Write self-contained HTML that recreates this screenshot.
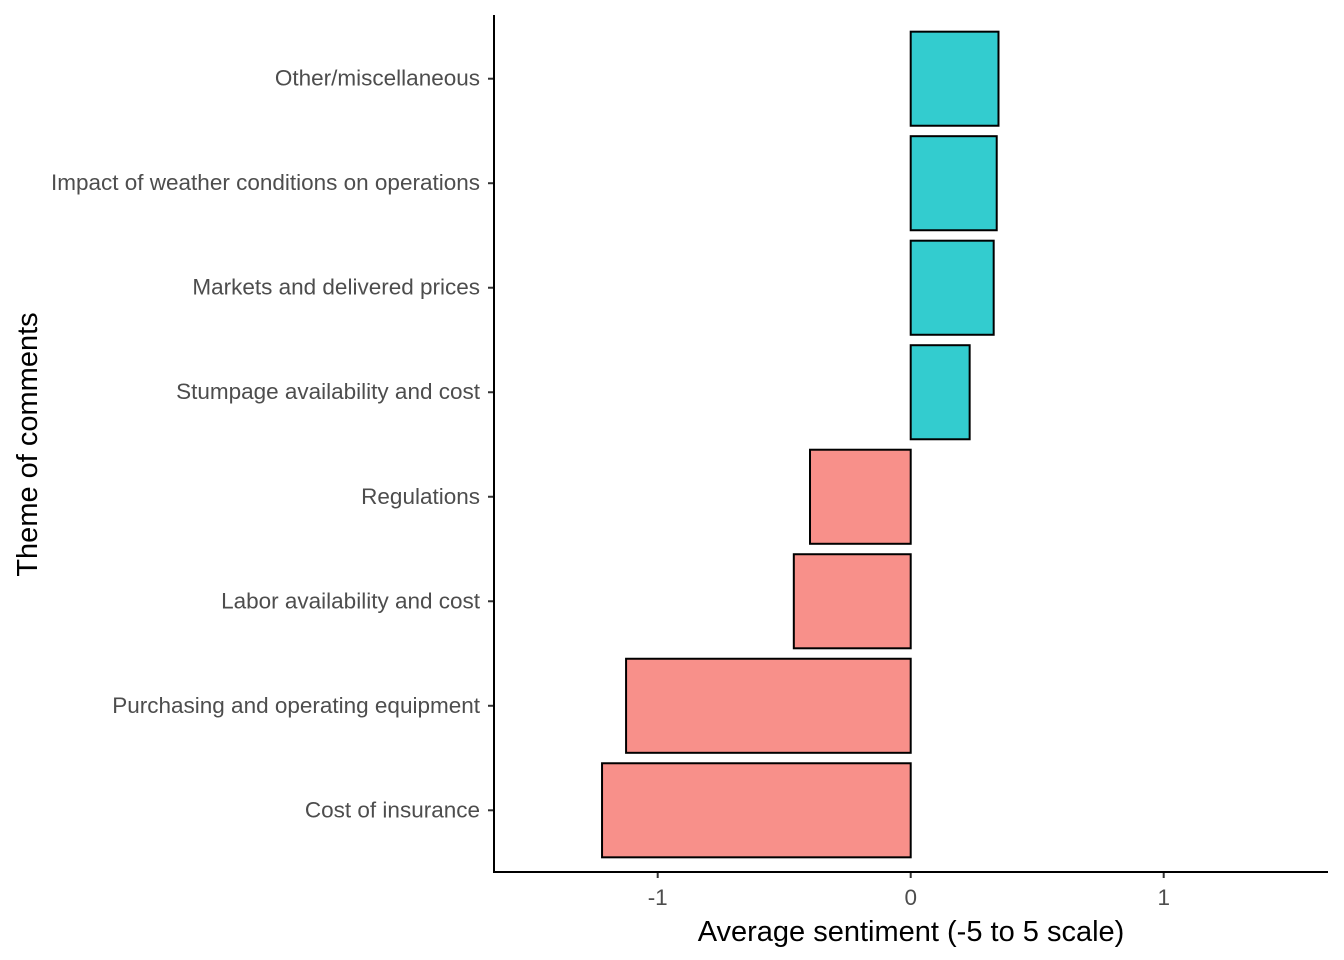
<!DOCTYPE html>
<html><head><meta charset="utf-8"><style>
html,body{margin:0;padding:0;background:#fff;}
svg{display:block;font-family:"Liberation Sans",Arial,sans-serif;}
</style></head><body>
<svg id="chart" width="1344" height="960" viewBox="0 0 1344 960" xmlns="http://www.w3.org/2000/svg"></svg>
<script>
const categories = ["Cost of insurance","Purchasing and operating equipment","Labor availability and cost","Regulations","Stumpage availability and cost","Markets and delivered prices","Impact of weather conditions on operations","Other/miscellaneous"];
const values = [-1.22,-1.125,-0.462,-0.398,0.233,0.328,0.34,0.347];
const xTicks = [-1,0,1];
const xTickLabels = ["-1","0","1"];

const NS="http://www.w3.org/2000/svg";
const svg=document.getElementById('chart');
const L=494,R=1328,T=15,B=872;
const x0=910.7, k=253;
function xs(v){return x0+v*k;}
const n=categories.length;
const step=(B-T)/(n-1+1.2);
function ys(i){return B-(0.6+i)*step;}
function mk(tag,attrs){const e=document.createElementNS(NS,tag);for(const a in attrs)e.setAttribute(a,attrs[a]);svg.appendChild(e);return e;}

categories.forEach((c,i)=>{
  const v=values[i];
  const h=step*0.9;
  const r=mk('rect',{x:Math.min(xs(0),xs(v)),y:ys(i)-h/2+1,width:Math.abs(xs(v)-xs(0)),height:h,fill:v<0?'#f8908a':'#33cccf',stroke:'#000','stroke-width':2});
  
  
  const t=mk('line',{x1:L-6,x2:L,y1:ys(i)+1,y2:ys(i)+1,stroke:'#333','stroke-width':2});
  
  
  const lb=mk('text',{x:L-14,y:ys(i)+8,'text-anchor':'end','font-size':22.5,fill:'#4d4d4d'});
  lb.textContent=c;
  
  
});
xTicks.forEach((v,i)=>{
  const t=mk('line',{x1:xs(v),x2:xs(v),y1:B,y2:B+6,stroke:'#333','stroke-width':2});
  
  
  const lb=mk('text',{x:xs(v),y:B+33,'text-anchor':'middle','font-size':22.5,fill:'#4d4d4d'});
  lb.textContent=xTickLabels[i];
  
  
});
const ya=mk('line',{x1:L,x2:L,y1:T,y2:B+1,stroke:'#000','stroke-width':2});


const xa=mk('line',{x1:L-1,x2:R,y1:B,y2:B,stroke:'#000','stroke-width':2});


const xt=mk('text',{x:(L+R)/2,y:941,'text-anchor':'middle','font-size':29,fill:'#000'});
xt.textContent='Average sentiment (-5 to 5 scale)';


const yt=mk('text',{x:0,y:0,'text-anchor':'middle','font-size':29,fill:'#000',transform:'translate(37,'+((T+B)/2+1)+') rotate(-90)'});
yt.textContent='Theme of comments';


</script>
</body></html>
